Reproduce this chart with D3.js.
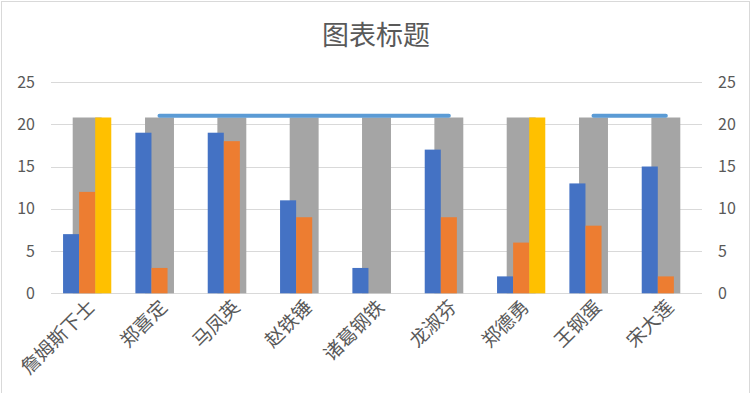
<!doctype html>
<meta charset="utf-8">
<head>
<script src="https://d3js.org/d3.v7.min.js"></script>
<style>
  body { margin: 0; background: #fff; }
  text { font-family: "Noto Sans CJK SC", "Noto Sans", sans-serif; fill: #595959; }
</style>
</head>
<body>
<svg width="752" height="393"></svg>
<script>
    // data
    let names = ["詹姆斯下士", "郑喜定", "马凤英", "赵铁锤", "诸葛钢铁", "龙淑芬", "郑德勇", "王钢蛋", "宋大莲"];
    let blueVals = [7, 19, 19, 11, 3, 17, 2, 13, 15];
    let orangeVals = [12, 3, 18, 9, 0, 9, 6, 8, 2];
    let yellowVals = [20.8, 0, 0, 0, 0, 0, 20.8, 0, 0];
    let grayVals = [20.8, 20.8, 20.8, 20.8, 20.8, 20.8, 20.8, 20.8, 20.8];
    let lineVals = [null, 21, 21, 21, 21, 21, null, 21, 21];
    let ticks = [0, 5, 10, 15, 20, 25];

    let svg = d3.select("svg");
    let width = +svg.attr("width");
    let height = +svg.attr("height");

    // chart frame
    svg.append("rect")
        .attr("x", 1.5).attr("y", 1.5)
        .attr("width", width - 4).attr("height", height + 10)
        .attr("fill", "none")
        .attr("stroke", "#d9d9d9");

    let plotLeft = 51, plotRight = 702, plotTop = 82, plotBottom = 293.3;

    let x = d3.scaleBand().domain(names).range([plotLeft, plotRight]);
    let y = d3.scaleLinear().domain([0, 25]).range([plotBottom, plotTop]);
    let y2 = d3.scaleLinear().domain([0, 25]).range([plotBottom, plotTop]);

    let step = x.step();
    let barW = step / 4.5;     // 3 series, gap width 150%
    let grayW = step / 2.5;    // 1 series on the secondary axis

    let g = svg.append("g");

    // gridlines
    g.selectAll(".grid")
        .data(ticks)
        .enter().append("line")
        .attr("class", "grid")
        .attr("x1", plotLeft).attr("x2", plotRight)
        .attr("y1", (d) => Math.round(y(d)) + 0.5)
        .attr("y2", (d) => Math.round(y(d)) + 0.5)
        .attr("stroke", "#d9d9d9")
        .attr("stroke-width", 1);

    let mid = (d) => x(d) + step / 2;

    // gray (secondary) bars behind
    g.selectAll(".gray")
        .data(names)
        .enter().append("rect")
        .attr("x", (d) => mid(d) - grayW / 2)
        .attr("width", grayW)
        .attr("y", (d, i) => y2(grayVals[i]))
        .attr("height", (d, i) => plotBottom - y2(grayVals[i]))
        .attr("fill", "#A5A5A5");

    let series = [
        { vals: blueVals, color: "#4472C4" },
        { vals: orangeVals, color: "#ED7D31" },
        { vals: yellowVals, color: "#FFC000" }
    ];

    series.forEach((s, k) => {
        g.selectAll(".s" + k)
            .data(names)
            .enter().append("rect")
            .attr("x", (d) => mid(d) - 1.5 * barW + k * barW)
            .attr("width", barW)
            .attr("y", (d, i) => y(s.vals[i]))
            .attr("height", (d, i) => plotBottom - y(s.vals[i]))
            .attr("fill", s.color);
    });

    // line series with gaps
    let line = d3.line()
        .defined((d) => d.v !== null)
        .x((d) => mid(d.name))
        .y((d) => y2(d.v));

    g.append("path")
        .datum(names.map((n, i) => ({ name: n, v: lineVals[i] })))
        .attr("d", line)
        .attr("fill", "none")
        .attr("stroke", "#5B9BD5")
        .attr("stroke-width", 4)
        .attr("stroke-linecap", "round")
        .attr("stroke-linejoin", "round");

    // left axis labels
    g.selectAll(".ly")
        .data(ticks)
        .enter().append("text")
        .attr("x", 35)
        .attr("y", (d) => y(d))
        .attr("dy", "0.35em")
        .attr("text-anchor", "end")
        .attr("font-size", 16)
        .text((d) => d);

    // right axis labels
    g.selectAll(".ry")
        .data(ticks)
        .enter().append("text")
        .attr("x", 718)
        .attr("y", (d) => y2(d))
        .attr("dy", "0.35em")
        .attr("text-anchor", "start")
        .attr("font-size", 16)
        .text((d) => d);

    // category labels
    g.selectAll(".cat")
        .data(names)
        .enter().append("text")
        .attr("text-anchor", "end")
        .attr("font-size", 19)
        .attr("transform", (d) => "translate(" + (mid(d) + 9) + "," + (plotBottom + 15) + ") rotate(-45)")
        .text((d) => d);

    // title
    svg.append("text")
        .attr("x", 376)
        .attr("y", 45)
        .attr("text-anchor", "middle")
        .attr("font-size", 27)
        .text("图表标题");
</script>
</body>
